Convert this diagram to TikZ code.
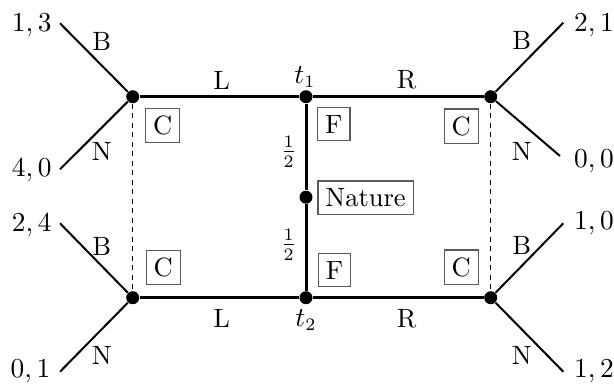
\documentclass[tikz,border=0pt]{standalone}
\begin{document}
\begin{tikzpicture}[x=0.4pt,y=-0.4pt,
  every node/.style={font=\fontsize{10.6}{13}\selectfont},
  dot/.style={circle,fill=black,inner sep=0pt,minimum size=5.2pt},
  mainedge/.style={line width=1.2pt},
  leafedge/.style={line width=0.8pt},
  infoset/.style={dash pattern=on 2pt off 1.8pt,line width=0.45pt},
  boxlbl/.style={draw=black!65,line width=0.5pt,inner sep=3pt},
  lbl/.style={inner sep=0pt}]
\useasboundingbox (0,0) rectangle (614,383);
% decision nodes
\node[dot] (lt) at (132.7,96.7) {};
\node[dot] (t1) at (306,96.7) {};
\node[dot] (rt) at (490.7,96.7) {};
\node[dot] (lb) at (132.7,297.7) {};
\node[dot] (t2) at (306,297.7) {};
\node[dot] (rb) at (490.7,297.7) {};
\node[dot] (nat) at (306,197.2) {};
% leaf ends
\coordinate (a1) at (60,23.3);
\coordinate (a2) at (60,169.3);
\coordinate (a3) at (60,223.3);
\coordinate (a4) at (60,371.7);
\coordinate (b1) at (563.3,22.7);
\coordinate (b2) at (560,156);
\coordinate (b3) at (563.3,223.3);
\coordinate (b4) at (563.3,371.7);
% main edges
\draw[mainedge] (lt) -- (t1);
\draw[mainedge] (t1) -- (rt);
\draw[mainedge] (lb) -- (t2);
\draw[mainedge] (t2) -- (rb);
\draw[mainedge] (t1) -- (nat);
\draw[mainedge] (nat) -- (t2);
% information sets
\draw[infoset] (lt) -- (lb);
\draw[infoset] (rt) -- (rb);
% leaf edges
\draw[leafedge] (lt) -- (a1);
\draw[leafedge] (lt) -- (a2);
\draw[leafedge] (lb) -- (a3);
\draw[leafedge] (lb) -- (a4);
\draw[leafedge] (rt) -- (b1);
\draw[leafedge] (rt) -- (b2);
\draw[leafedge] (rb) -- (b3);
\draw[leafedge] (rb) -- (b4);
% edge labels
\node[lbl] (lL1) at (221.7,80) {L};
\node[lbl] (lR1) at (406.7,80) {R};
\node[lbl] (lL2) at (221.7,318.3) {L};
\node[lbl] (lR2) at (406.7,318.3) {R};
\node[lbl] (lt1) at (305,76.7) {$t_1$};
\node[lbl] (lt2) at (306,320) {$t_2$};
\node[lbl] (h1) at (288.7,151.7) {$\frac{1}{2}$};
\node[lbl] (h2) at (288.7,245) {$\frac{1}{2}$};
\node[lbl] (B1) at (101.7,41.7) {B};
\node[lbl] (N1) at (101.7,151.7) {N};
\node[lbl] (B2) at (101.7,246.7) {B};
\node[lbl] (N2) at (101.7,355) {N};
\node[lbl] (B3) at (521.7,40) {B};
\node[lbl] (N3) at (521.7,151.7) {N};
\node[lbl] (B4) at (521.7,245) {B};
\node[lbl] (N4) at (521.7,355) {N};
% payoffs
\node[lbl] (p1) at (31.7,25) {$1,3$};
\node[lbl] (p2) at (31.7,170) {$4,0$};
\node[lbl] (p3) at (31.7,225) {$2,4$};
\node[lbl] (p4) at (30.5,371.7) {$0,1$};
\node[lbl] (p5) at (594,25) {$2,1$};
\node[lbl] (p6) at (594,161.7) {$0,0$};
\node[lbl] (p7) at (594,223.3) {$1,0$};
\node[lbl] (p8) at (594,371.7) {$1,2$};
% boxes
\node[boxlbl] (c1) at (162.8,125.3) {C};
\node[boxlbl] (f1) at (333.8,124.2) {F};
\node[boxlbl] (c2) at (461.3,126) {C};
\node[boxlbl] (c3) at (163.3,267.7) {C};
\node[boxlbl] (f2) at (334.5,270) {F};
\node[boxlbl] (c4) at (461.3,267) {C};
\node[boxlbl,anchor=west] (natl) at (317.3,197.8) {Nature};
\end{tikzpicture}
\end{document}
